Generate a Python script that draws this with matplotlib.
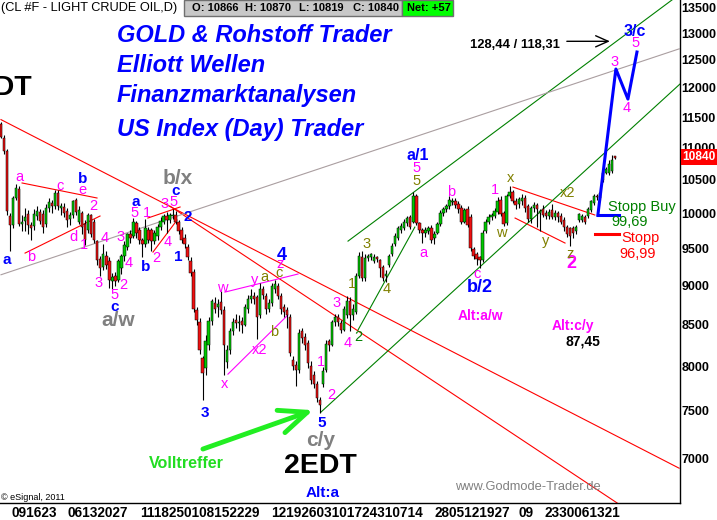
import numpy as np
import matplotlib
matplotlib.use('Agg')
import matplotlib.pyplot as plt
import matplotlib.transforms as mtransforms
from matplotlib.patches import Rectangle
from matplotlib.ticker import FixedLocator, FixedFormatter, NullLocator

plt.rcParams['font.family'] = ['Liberation Sans', 'DejaVu Sans']

# daily candles (price * 100)
opens = [
    11380, 11150, 10950, 9960, 9830, 10230, 10360, 9850, 9890, 9990,
    9830, 9820, 9960, 10020, 9990, 9850, 10080, 10150, 10110, 10300,
    10080, 10090, 10030, 9910, 9970, 10190, 9880, 10000, 9840, 9760,
    9970, 9880, 9600, 9360, 9250, 9400, 9330, 9060, 9120, 9080,
    9240, 9400, 9520, 9700, 9680, 9860, 9760, 9620, 9560, 9760,
    9760, 9600, 9680, 9800, 9880, 9960, 9900, 9960, 9970, 9870,
    9760, 9650, 9520, 9330, 9180, 8680, 8540, 8100, 7980, 8250,
    8550, 8780, 8720, 8790, 8690, 8050, 8200, 8420, 8560, 8520,
    8550, 8500, 8700, 8820, 8870, 8850, 8620, 8960, 8860, 8700,
    8780, 8960, 8990, 8860, 8720, 8680, 8600, 8080, 8020, 7960,
    8420, 8350, 8280, 8000, 7900, 7800, 7620, 7800, 7960, 8300,
    8260, 8530, 8600, 8520, 8440, 8620, 8800, 8620, 8660, 9130,
    9380, 9100, 9370, 9380, 9330, 9380, 9340, 9250, 9120, 9280,
    9420, 9560, 9650, 9760, 9790, 9860, 9940, 9880, 10260, 9860,
    9760, 9720, 9740, 9790, 9640, 9720, 9850, 10000, 10060, 10100,
    10170, 10180, 10130, 10080, 9880, 10060, 9950, 9490, 9420, 9380,
    9340, 9750, 9880, 9940, 9960, 10020, 10200, 10000, 9860, 10250,
    10320, 10180, 10130, 10180, 10230, 10100, 9910, 10070, 10120, 10000,
    10060, 10000, 9960, 10040, 9950, 10000, 9960, 9900, 9800, 9780,
    9790, 9740, 9900, 9900, 9940, 9960, 10050, 10150, 10260, 10230,
    10490, 10610, 10600, 10640, 10866]
highs = [
    11420, 11200, 10980, 10000, 10260, 10440, 10400, 9980, 10080, 10050,
    9880, 10060, 10100, 10060, 10050, 10130, 10230, 10200, 10340, 10340,
    10150, 10150, 10080, 10020, 10200, 10220, 10100, 10030, 9900, 10000,
    9990, 9920, 9620, 9400, 9560, 9460, 9380, 9160, 9180, 9360,
    9430, 9600, 9720, 9760, 9930, 9890, 9800, 9650, 9910, 9800,
    9790, 9760, 9840, 9950, 9990, 10020, 10000, 10060, 10030, 9900,
    9800, 9700, 9560, 9380, 9220, 8720, 8580, 8120, 8380, 8600,
    8820, 8850, 8820, 8930, 8740, 8250, 8460, 8580, 8640, 8620,
    8600, 8760, 8880, 8950, 8920, 8880, 9040, 9000, 8900, 8820,
    9040, 9080, 9030, 8900, 8760, 8720, 8640, 8120, 8060, 8450,
    8460, 8400, 8320, 8060, 7950, 7830, 7650, 7990, 8320, 8330,
    8560, 8640, 8640, 8560, 8740, 8860, 8850, 8760, 9160, 9450,
    9470, 9420, 9430, 9440, 9420, 9400, 9360, 9280, 9200, 9430,
    9580, 9720, 9820, 9860, 9920, 9960, 9970, 10320, 10280, 9880,
    9790, 9800, 9820, 9830, 9740, 9880, 10040, 10090, 10140, 10260,
    10230, 10220, 10180, 10120, 10080, 10100, 9990, 9520, 9450, 9400,
    9760, 9920, 9990, 10010, 10080, 10240, 10250, 10030, 10290, 10400,
    10350, 10230, 10240, 10280, 10270, 10130, 10110, 10160, 10150, 10060,
    10120, 10040, 10060, 10130, 10040, 10030, 10000, 9940, 9830, 9800,
    9820, 9830, 10010, 9990, 9970, 10090, 10200, 10280, 10290, 10330,
    10630, 10700, 10800, 10880, 10870]
lows = [
    11150, 10900, 9980, 9470, 9780, 10200, 9820, 9750, 9750, 9700,
    9620, 9760, 9900, 9840, 9720, 9800, 10020, 10000, 10060, 10050,
    9980, 9950, 9800, 9830, 9930, 9980, 9850, 9700, 9550, 9720,
    9660, 9580, 9280, 9130, 9200, 9220, 8970, 8960, 9000, 9050,
    9150, 9330, 9480, 9580, 9640, 9650, 9560, 9380, 9520, 9580,
    9470, 9560, 9620, 9760, 9840, 9720, 9860, 9920, 9840, 9700,
    9580, 9500, 9340, 9120, 8660, 8500, 8150, 7620, 7900, 8200,
    8500, 8650, 8600, 8640, 7900, 7980, 8150, 8380, 8460, 8420,
    8400, 8480, 8650, 8780, 8760, 8330, 8580, 8820, 8640, 8660,
    8740, 8900, 8820, 8640, 8600, 8460, 8120, 7960, 7780, 7920,
    8280, 8200, 7980, 7800, 7750, 7600, 7480, 7760, 7940, 8180,
    8240, 8480, 8480, 8400, 8420, 8580, 8430, 8560, 8640, 9100,
    9060, 9060, 9330, 9340, 9300, 9320, 9110, 9060, 9050, 9250,
    9400, 9540, 9620, 9720, 9760, 9820, 9770, 9860, 9830, 9720,
    9580, 9660, 9700, 9580, 9560, 9700, 9820, 9960, 10020, 10060,
    10120, 10080, 10000, 9850, 9860, 9800, 9470, 9350, 9280, 9240,
    9320, 9720, 9850, 9900, 9930, 9990, 9960, 9820, 9830, 10220,
    10150, 10060, 10080, 10120, 10020, 9880, 9860, 10020, 9800, 9750,
    9940, 9920, 9920, 9910, 9900, 9880, 9840, 9740, 9660, 9540,
    9650, 9700, 9880, 9870, 9840, 9930, 10020, 10120, 10200, 10200,
    10460, 10580, 10570, 10600, 10819]
closes = [
    11180, 10950, 10030, 9830, 10230, 10380, 9850, 9880, 9950, 9830,
    9780, 9990, 10030, 9890, 9800, 10080, 10170, 10110, 10300, 10100,
    10110, 10000, 9900, 9970, 10180, 10020, 10050, 9800, 9620, 9970,
    9700, 9620, 9340, 9230, 9430, 9280, 9080, 9110, 9060, 9330,
    9400, 9550, 9700, 9650, 9880, 9720, 9620, 9560, 9780, 9620,
    9600, 9720, 9800, 9890, 9960, 9900, 9970, 9980, 9880, 9750,
    9620, 9560, 9380, 9160, 8700, 8560, 8200, 7920, 8300, 8550,
    8800, 8700, 8760, 8690, 8250, 8200, 8420, 8540, 8520, 8540,
    8500, 8720, 8820, 8860, 8820, 8600, 8960, 8880, 8700, 8780,
    8990, 9020, 8860, 8700, 8660, 8620, 8160, 8000, 7960, 8400,
    8340, 8260, 8040, 7840, 7800, 7640, 7560, 7950, 8270, 8260,
    8530, 8600, 8530, 8440, 8700, 8800, 8620, 8700, 9130, 9400,
    9100, 9370, 9400, 9420, 9380, 9360, 9240, 9100, 9150, 9400,
    9540, 9680, 9790, 9820, 9880, 9930, 9800, 10260, 9860, 9760,
    9720, 9760, 9780, 9620, 9700, 9850, 10000, 10060, 10110, 10190,
    10180, 10120, 10060, 9880, 10040, 9830, 9500, 9400, 9350, 9340,
    9720, 9880, 9950, 9980, 10030, 10180, 9990, 9850, 10250, 10320,
    10180, 10120, 10210, 10230, 10080, 9910, 10080, 10120, 10060, 10030,
    9980, 9960, 10020, 9950, 10000, 9940, 9880, 9800, 9700, 9680,
    9710, 9800, 9990, 9960, 9880, 10060, 10180, 10250, 10240, 10300,
    10600, 10670, 10740, 10800, 10840]

price_ticks = list(range(7000, 14000, 500))
date_labels = ['091623', '06132027', '1118250108152229', '12192603101724310714',
               '2805121927', '09', '2330061321']
date_pos = [10.9, 32.2, 66.1, 114.9, 156.5, 174.4, 193.0]

# drawn trend lines as (candle index, price)
red_lines = [([0, 225.3], [11460, 6899]),
             ([56.1, 212.3], [10105, 6415]),
             ([7.0, 31.9], [10450, 10224]),
             ([8.0, 32.9], [9436, 9959]),
             ([48.8, 59.5], [9930, 10091]),
             ([50.5, 58.5], [9450, 9901]),
             ([170.1, 197.3], [10388, 9974]),
             ([170.8, 187.4], [9930, 9575])]
green_lines = [([115.3, 225.6], [9602, 13760]),
               ([106.3, 225.6], [7486, 12070]),
               ([118.6, 137.5], [8435, 9800])]
gray_line = ([0, 225.3], [9143, 12703])
pink_lines = [([74.4, 98.7], [8915, 9153]),
              ([75.4, 95.3], [7911, 8622])]
proj_x = [198.3, 204.3, 208.3, 211.3]
proj_y = [9969, 12336, 11808, 12645]
stop_buy = 9969
stop_loss = 9699
target = 12844
last_price = 10840

fig = plt.figure(figsize=(7.17, 5.2), dpi=100)
ax = fig.add_axes([0, 17 / 520, 680 / 717, 503 / 520])
ax.set_yscale('log')
ax.set_xlim(-0.33, 225.6)
ax.set_ylim(6558, 13640)

# candles
idx = np.arange(len(closes))
o = np.array(opens); c = np.array(closes)
up = c >= o
ax.vlines(idx, lows, highs, color='black', lw=0.8, zorder=2)
ax.bar(idx[up], (c - o)[up], bottom=o[up], width=0.78, color='#00c800',
       edgecolor='black', lw=0.35, zorder=3)
ax.bar(idx[~up], (o - c)[~up], bottom=c[~up], width=0.78, color='#ee1111',
       edgecolor='black', lw=0.35, zorder=3)

# trend lines
for xs, ys in red_lines:
    ax.plot(xs, ys, color='#ff0000', lw=0.8, zorder=1)
for xs, ys in green_lines:
    ax.plot(xs, ys, color='#008000', lw=0.8, zorder=1)
ax.plot(*gray_line, color='#aa9ea0', lw=0.8, zorder=1)
for xs, ys in pink_lines:
    ax.plot(xs, ys, color='#ff00ff', lw=0.8, zorder=1)
ax.plot(proj_x, proj_y, color='#0000ff', lw=2.2, zorder=4)
ax.plot([198.3, 205.3], [stop_buy, stop_buy], color='#0000ff', lw=2.2, zorder=4)
ax.plot([197.3, 205.3], [stop_loss, stop_loss], color='#ff0000', lw=2.2, zorder=4)
ax.annotate('', xy=(202.3, target), xytext=(188.0, target),
            arrowprops=dict(arrowstyle='->,head_length=0.9,head_width=0.4',
                            color='black', lw=1, shrinkA=0, shrinkB=0, mutation_scale=10))
ax.annotate('', xy=(103.7, 7507), xytext=(67.1, 7094),
            arrowprops=dict(arrowstyle='->,head_length=2.0,head_width=0.85',
                            color='#22ee22', lw=3.5, shrinkA=0, shrinkB=0, mutation_scale=10))

# axes styling
for s in ['top', 'left']:
    ax.spines[s].set_visible(False)
ax.spines['right'].set_linewidth(1)
ax.spines['bottom'].set_linewidth(1)
ax.yaxis.tick_right()
ax.yaxis.set_major_locator(FixedLocator(price_ticks))
ax.yaxis.set_major_formatter(FixedFormatter([str(p) for p in price_ticks]))
ax.yaxis.set_minor_locator(NullLocator())
ax.tick_params(axis='y', length=0, pad=1, labelsize=9)
ax.set_xticks(date_pos, date_labels)
ax.tick_params(axis='x', length=0, pad=2, labelsize=9.8)
plt.setp(ax.get_yticklabels(), fontweight='bold')
plt.setp(ax.get_xticklabels(), fontweight='bold')

# text is placed in image pixels
pix = mtransforms.Affine2D().scale(1 / 717, -1 / 520).translate(0, 1) + fig.transFigure

def lab(x, y, s, color, size, weight='normal', ha='center', va='center', **kw):
    fig.text(x, y, s, color=color, fontsize=size, fontweight=weight,
             ha=ha, va=va, transform=pix, **kw)

blue, pink, gray, olive = '#0000ff', '#ff00ff', '#808080', '#808000'

# header
lab(1, 8, '(CL #F - LIGHT CRUDE OIL,D)', 'black', 9.2, ha='left')
fig.add_artist(Rectangle((184, 0), 218, 16, transform=pix, facecolor='#c8c8c8',
                         edgecolor='#707070', lw=1))
fig.add_artist(Rectangle((402, 0), 51, 16, transform=pix, facecolor='#00ff00',
                         edgecolor='#707070', lw=1))
for x, s in [(192, 'O: 10866'), (245, 'H: 10870'), (299, 'L: 10819'),
             (353, 'C: 10840'), (407, 'Net: +57')]:
    lab(x, 8, s, 'black', 8, 'bold', ha='left')

# titles
for y, s in [(42, 'GOLD & Rohstoff Trader'), (72, 'Elliott Wellen'),
             (102, 'Finanzmarktanalysen'), (136, 'US Index (Day) Trader')]:
    lab(117, y, s, blue, 17, 'bold', ha='left', va='baseline', style='italic')

lab(32, 95, '1EDT', 'black', 20.5, 'bold', ha='right', va='baseline')
lab(320, 473, '2EDT', 'black', 20.5, 'bold', va='baseline')

# wave counts
for s, x, y in [('a', 7, 260), ('b', 83, 179), ('c', 115, 307), ('a', 136, 202),
                ('b', 146, 267), ('c', 176, 191), ('2', 188, 217), ('1', 178, 257),
                ('3', 205, 413), ('5', 322, 423)]:
    lab(x, y, s, blue, 11, 'bold')
lab(282, 255, '4', blue, 13, 'bold')
lab(418, 155, 'a/1', blue, 11.5, 'bold')
lab(635, 31, '3/c', blue, 11.5, 'bold')
lab(480, 287, 'b/2', blue, 13, 'bold')
lab(323, 493, 'Alt:a', blue, 11, 'bold')
for s, x, y in [('b/x', 178, 178), ('a/w', 118, 320), ('c/y', 321, 441)]:
    lab(x, y, s, gray, 15, 'bold')

for s, x, y in [('a', 19, 177), ('b', 31, 257), ('c', 60, 186), ('d', 73, 237),
                ('e', 82, 190), ('2', 93, 206), ('1', 84, 245), ('4', 105, 238),
                ('3', 121, 237), ('3', 99, 283), ('5', 115, 295), ('2', 123, 285),
                ('4', 129, 263), ('5', 135, 213), ('1', 147, 213), ('2', 156, 258),
                ('3', 165, 204), ('4', 168, 242), ('5', 174, 202),
                ('w', 222, 288), ('x', 225, 384), ('x2', 260, 350), ('y', 255, 280),
                ('z', 280, 264), ('1', 321, 362), ('2', 331, 395), ('3', 337, 303),
                ('4', 348, 343), ('5', 417, 168), ('a', 423, 253), ('b', 451, 192),
                ('c', 477, 274), ('1', 495, 190), ('3', 615, 62), ('4', 627, 108),
                ('5', 636, 43)]:
    lab(x, y, s, pink, 10.5)
lab(571, 264, '2', pink, 13, 'bold')
lab(480, 316, 'Alt:a/w', pink, 10, 'bold')
lab(573, 326, 'Alt:c/y', pink, 10, 'bold')
lab(583, 342, '87,45', 'black', 10, 'bold')

for s, x, y in [('a', 264, 277), ('b', 274, 332), ('c', 279, 273), ('1', 352, 284),
                ('3', 367, 244), ('4', 387, 289), ('5', 417, 181), ('x', 511, 178),
                ('w', 501, 233), ('y', 546, 241), ('z', 570, 254), ('x2', 568, 193)]:
    lab(x, y, s, olive, 10.5)
lab(358, 337, '2', '#008000', 10.5)

# targets and stops
lab(515, 45, '128,44 / 118,31', 'black', 9.4, 'bold')
lab(642, 207, 'Stopp Buy', '#008000', 10.5)
lab(630, 222, '99,69', '#008000', 10.5)
lab(640, 238, 'Stopp', '#ff0000', 10.5)
lab(638, 254, '96,99', '#ff0000', 10.5)
lab(186, 463, 'Volltreffer', '#22dd22', 11.6, 'bold')
lab(528, 487, 'www.Godmode-Trader.de', gray, 9.3)
lab(1, 497, '\u00a9 eSignal, 2011', 'black', 6.5, ha='left')

# last price box on the scale
fig.add_artist(Rectangle((681, 149), 36, 16, transform=pix, facecolor='#ff0000',
                         edgecolor='none', zorder=5))
lab(682, 157, str(last_price), 'white', 8.6, 'bold', ha='left', zorder=6)

fig.savefig('out.png', dpi=100)
